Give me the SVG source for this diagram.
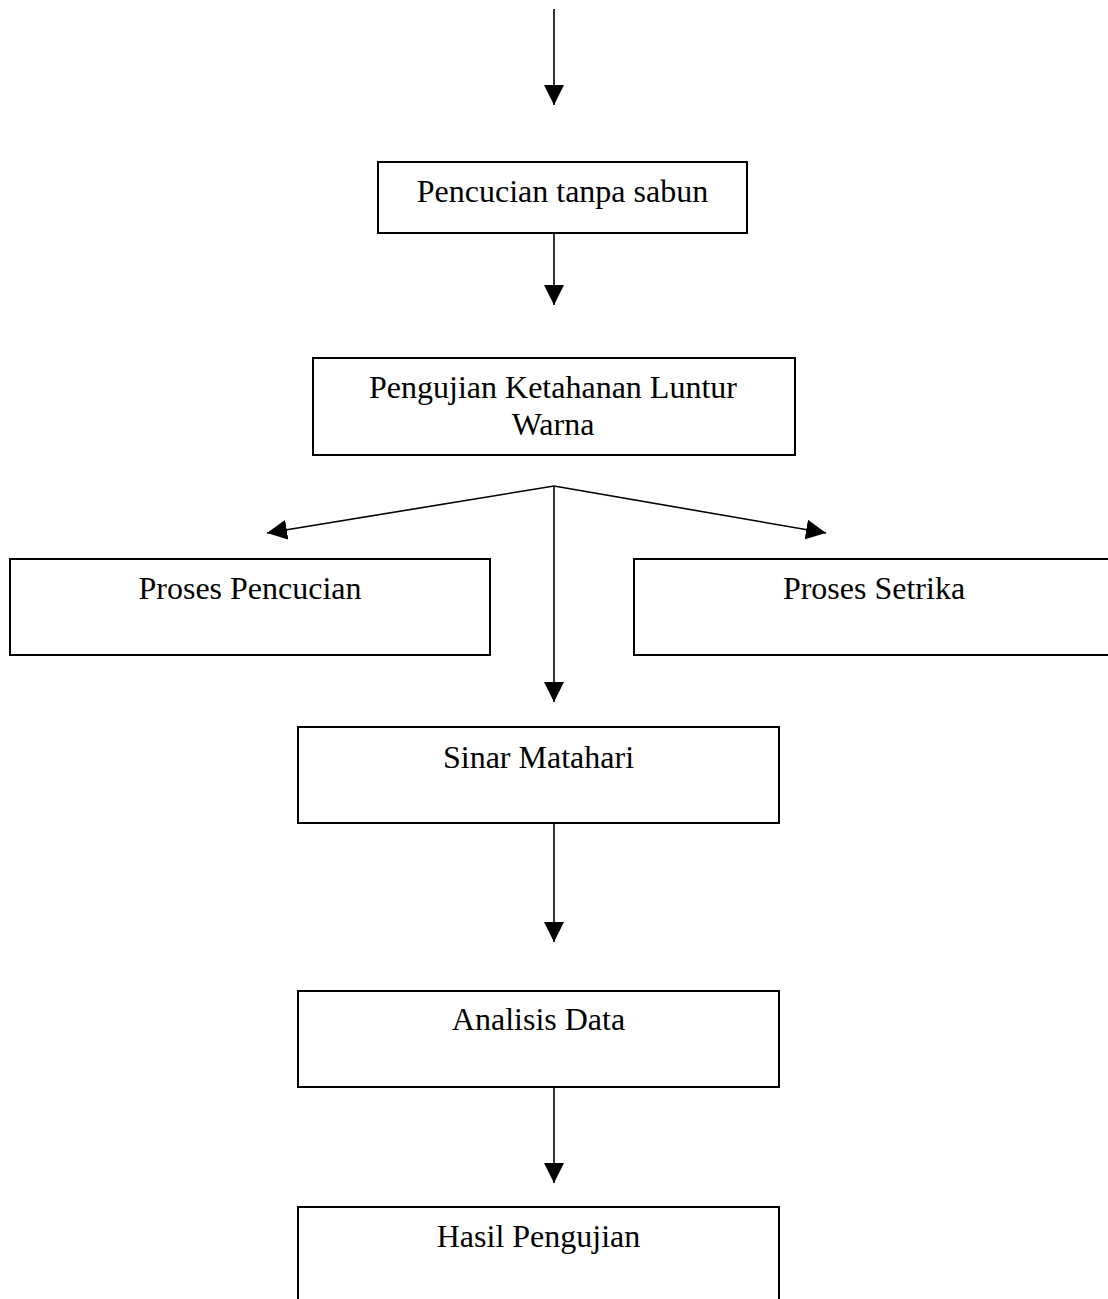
<svg xmlns="http://www.w3.org/2000/svg" width="1108" height="1299" viewBox="0 0 1108 1299">
<style>
.box{fill:#fff;stroke:#000;stroke-width:2}
.lbl{font-family:"Liberation Serif","Times New Roman",serif;font-size:32px;fill:#000;text-anchor:middle}
.conn{stroke:#000;stroke-width:1.6;fill:none}
</style>
<defs>
<marker id="ah" markerUnits="userSpaceOnUse" markerWidth="20" markerHeight="20" refX="20" refY="10" orient="auto">
<path d="M0,0 L20,10 L0,20 z" fill="#000"/>
</marker>
</defs>
<rect width="1108" height="1299" fill="#fff"/>
<g id="connectors">
<line class="conn" x1="554" y1="9" x2="554" y2="105" marker-end="url(#ah)"/>
<line class="conn" x1="554" y1="233" x2="554" y2="305" marker-end="url(#ah)"/>
<line class="conn" x1="554" y1="486" x2="267" y2="533" marker-end="url(#ah)"/>
<line class="conn" x1="554" y1="486" x2="826" y2="533" marker-end="url(#ah)"/>
<line class="conn" x1="554" y1="486" x2="554" y2="702" marker-end="url(#ah)"/>
<line class="conn" x1="554" y1="823" x2="554" y2="942" marker-end="url(#ah)"/>
<line class="conn" x1="554" y1="1087" x2="554" y2="1183" marker-end="url(#ah)"/>
</g>
<g id="n1"><rect class="box" x="378" y="162" width="369" height="71"/><text class="lbl" x="562.5" y="202">Pencucian tanpa sabun</text></g>
<g id="n2"><rect class="box" x="313" y="358" width="482" height="97"/><text class="lbl" x="553" y="398">Pengujian Ketahanan Luntur</text><text class="lbl" x="553" y="435">Warna</text></g>
<g id="n3"><rect class="box" x="10" y="559" width="480" height="96"/><text class="lbl" x="250" y="599">Proses Pencucian</text></g>
<g id="n4"><rect class="box" x="634" y="559" width="480" height="96"/><text class="lbl" x="874" y="599">Proses Setrika</text></g>
<g id="n5"><rect class="box" x="298" y="727" width="481" height="96"/><text class="lbl" x="538.5" y="768">Sinar Matahari</text></g>
<g id="n6"><rect class="box" x="298" y="991" width="481" height="96"/><text class="lbl" x="538.5" y="1030">Analisis Data</text></g>
<g id="n7"><rect class="box" x="298" y="1207" width="481" height="120"/><text class="lbl" x="538.5" y="1247">Hasil Pengujian</text></g>
</svg>
